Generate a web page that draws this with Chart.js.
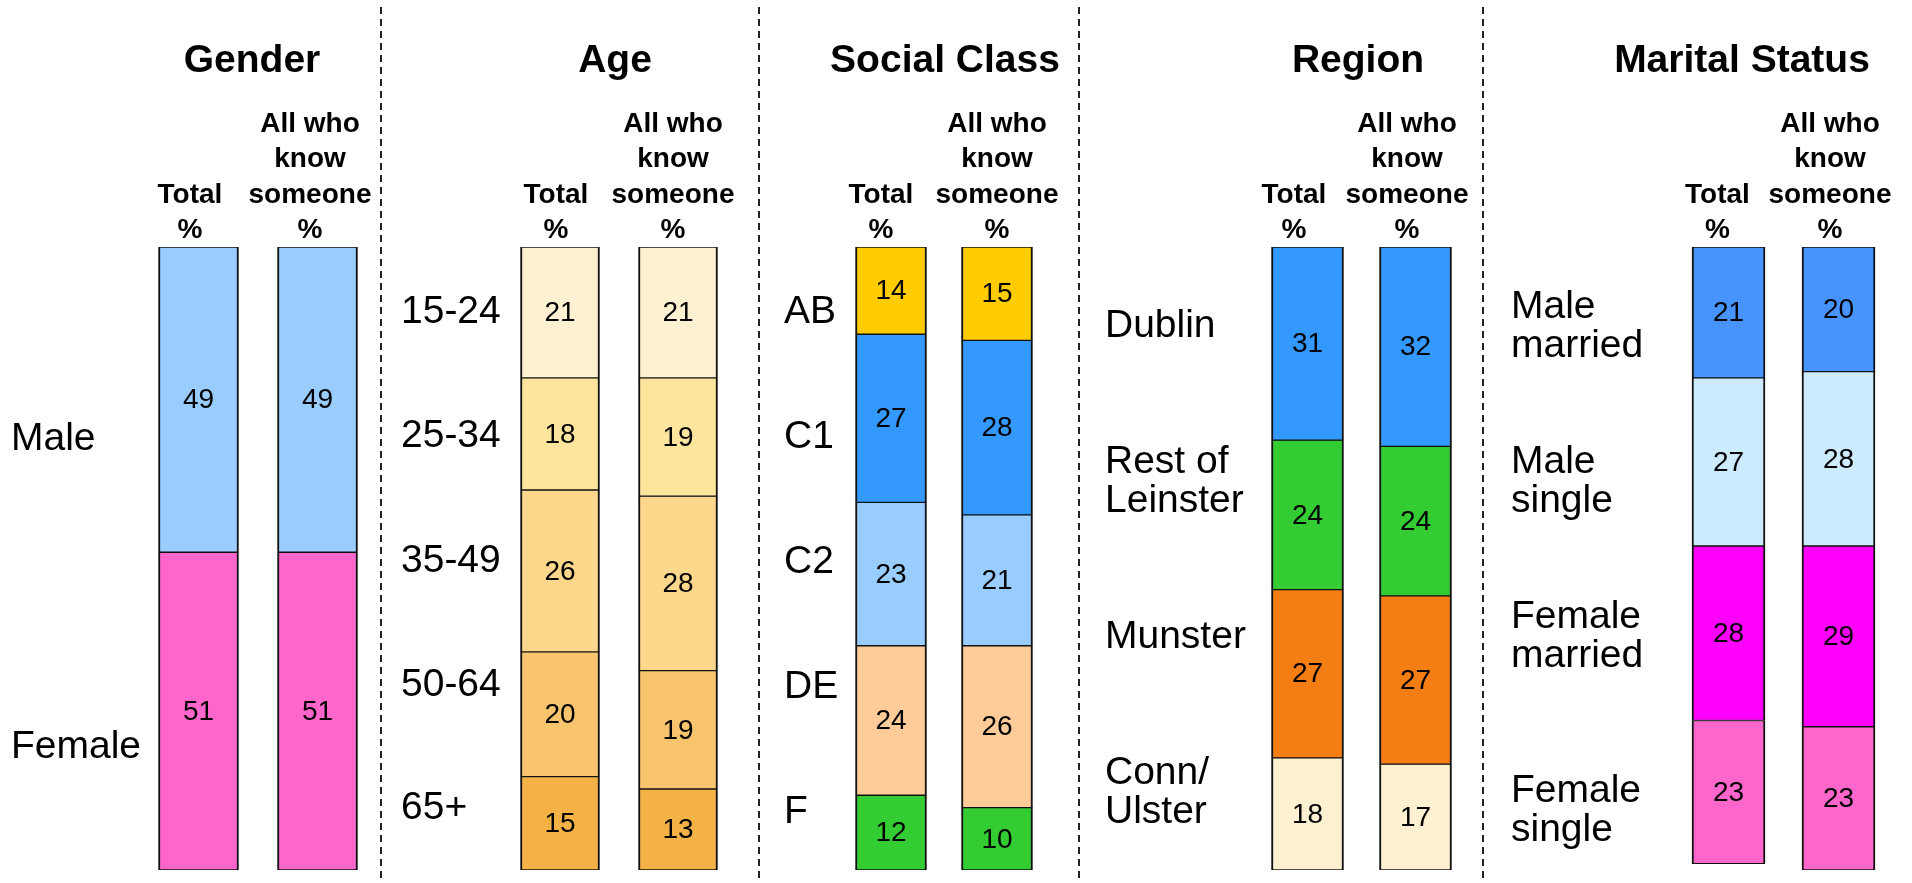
<!DOCTYPE html>
<html>
<head>
<meta charset="utf-8">
<script src="https://cdn.jsdelivr.net/npm/chart.js@4.4.1/dist/chart.umd.min.js"></script>
<style>
  html, body { margin: 0; padding: 0; background: #fff; }
  body { width: 1912px; height: 883px; position: relative; overflow: hidden; }
  canvas { position: absolute; top: 0; }
</style>
</head>
<body>
<script>
// ---- data ----
const columnHeaders = [['Total', '%'], ['All who', 'know', 'someone', '%']];

const genderCategories = ['Male', 'Female'];
const genderTotal = [49, 51];
const genderKnow = [49, 51];

const ageCategories = ['15-24', '25-34', '35-49', '50-64', '65+'];
const ageTotal = [21, 18, 26, 20, 15];
const ageKnow = [21, 19, 28, 19, 13];

const classCategories = ['AB', 'C1', 'C2', 'DE', 'F'];
const classTotal = [14, 27, 23, 24, 12];
const classKnow = [15, 28, 21, 26, 10];

const regionCategories = ['Dublin', 'Rest of\nLeinster', 'Munster', 'Conn/\nUlster'];
const regionTotal = [31, 24, 27, 18];
const regionKnow = [32, 24, 27, 17];

const maritalCategories = ['Male\nmarried', 'Male\nsingle', 'Female\nmarried', 'Female\nsingle'];
const maritalTotal = [21, 27, 28, 23];
const maritalKnow = [20, 28, 29, 23];

// ---- panels: data + layout ----
const FONT = '"Liberation Sans", Arial, sans-serif';
const CHART_TOP = 247, CHART_BOTTOM = 870, PAGE_H = 883;

const panels = [
    {
        title: 'Gender', categories: genderCategories, total: genderTotal, know: genderKnow,
        colors: ['#99CCFF', '#FF66CC'],
        left: 0, right: 381, divider: false,
        barCenters: [198.5, 317.5], barWidth: 80,
        titleX: 252, headerX: [190, 310],
        labelX: 11, labelY: [450, 758]
    },
    {
        title: 'Age', categories: ageCategories, total: ageTotal, know: ageKnow,
        colors: ['#FDF1D2', '#FEE59E', '#FDD78B', '#F8C46D', '#F4B246'],
        left: 380, right: 759, divider: true,
        barCenters: [560, 678], barWidth: 79,
        titleX: 615, headerX: [556, 673],
        labelX: 401, labelY: [323, 447, 572, 696, 819]
    },
    {
        title: 'Social Class', categories: classCategories, total: classTotal, know: classKnow,
        colors: ['#FFCC00', '#3399FF', '#99CCFF', '#FFCC99', '#33CC33'],
        left: 758, right: 1079, divider: true,
        barCenters: [891, 997], barWidth: 71,
        titleX: 945, headerX: [881, 997],
        labelX: 784, labelY: [323, 448, 573, 698, 823]
    },
    {
        title: 'Region', categories: regionCategories, total: regionTotal, know: regionKnow,
        colors: ['#3399FF', '#33CC33', '#F47D14', '#FDF1D2'],
        left: 1078, right: 1483, divider: true,
        barCenters: [1307.5, 1415.5], barWidth: 72,
        titleX: 1358, headerX: [1294, 1407],
        labelX: 1105, labelY: [337, 473, 648, 784]
    },
    {
        title: 'Marital Status', categories: maritalCategories, total: maritalTotal, know: maritalKnow,
        colors: ['#4794FF', '#CCEBFF', '#FF00FF', '#FF66CC'],
        left: 1482, right: 1912, divider: true,
        barCenters: [1728.5, 1838.5], barWidth: 73,
        titleX: 1742, headerX: [1717.5, 1830],
        labelX: 1511, labelY: [318, 473, 628, 802]
    }
];

// Draws titles, column headers, category labels, values and the dashed divider
const decorPlugin = {
    id: 'decor',
    afterDatasetsDraw(chart, args, opts) {
        const p = opts.panel;
        const ctx = chart.ctx;
        const off = p.left;
        ctx.save();
        ctx.fillStyle = '#000';

        // values in the middle of each segment
        ctx.font = '28px ' + FONT;
        ctx.textAlign = 'center';
        ctx.textBaseline = 'middle';
        chart.data.datasets.forEach((ds, d) => {
            chart.getDatasetMeta(d).data.forEach((bar, j) => {
                ctx.fillText(String(ds.data[j]), bar.x, (bar.y + bar.base) / 2 + 1);
            });
        });

        // panel title
        ctx.textBaseline = 'alphabetic';
        ctx.font = 'bold 39px ' + FONT;
        ctx.fillText(p.title, p.titleX - off, 72);

        // column headers, bottom aligned
        ctx.font = 'bold 28px ' + FONT;
        columnHeaders.forEach((lines, c) => {
            lines.forEach((line, k) => {
                const y = 238 - (lines.length - 1 - k) * 35.5;
                ctx.fillText(line, p.headerX[c] - off, y);
            });
        });

        // category labels on the left
        ctx.font = '39px ' + FONT;
        ctx.textAlign = 'left';
        p.categories.forEach((cat, i) => {
            cat.split('\n').forEach((line, k) => {
                ctx.fillText(line, p.labelX - off, p.labelY[i] + k * 38.5);
            });
        });

        // dashed divider at the panel's left edge
        if (p.divider) {
            ctx.strokeStyle = '#222';
            ctx.lineWidth = 2;
            ctx.setLineDash([7, 5]);
            ctx.beginPath();
            ctx.moveTo(1, 7);
            ctx.lineTo(1, PAGE_H);
            ctx.stroke();
        }
        ctx.restore();
    }
};

function buildPanel(p) {
    const canvas = document.createElement('canvas');
    canvas.width = p.right - p.left;
    canvas.height = PAGE_H;
    canvas.style.left = p.left + 'px';
    document.body.appendChild(canvas);

    const spacing = p.barCenters[1] - p.barCenters[0];
    const areaLeft = p.barCenters[0] - spacing / 2;
    const areaRight = p.barCenters[1] + spacing / 2;

    const datasets = p.categories.map((cat, i) => ({
        label: cat,
        data: [p.total[i], p.know[i]],
        backgroundColor: p.colors[i],
        borderColor: '#111',
        borderWidth: { top: 1, bottom: 1, left: 2, right: 2 },
        borderSkipped: false,
        barThickness: p.barWidth,
        stack: 'all'
    }));

    new Chart(canvas.getContext('2d'), {
        type: 'bar',
        data: { labels: columnHeaders.map(h => h.join(' ')), datasets: datasets },
        options: {
            responsive: false,
            devicePixelRatio: 1,
            animation: false,
            layout: {
                padding: {
                    top: CHART_TOP,
                    bottom: PAGE_H - CHART_BOTTOM,
                    left: areaLeft - p.left,
                    right: p.right - areaRight
                }
            },
            scales: {
                x: { stacked: true, display: false },
                y: { stacked: true, display: false, min: 0, max: 100, reverse: true }
            },
            plugins: {
                legend: { display: false },
                tooltip: { enabled: false },
                decor: { panel: p }
            }
        },
        plugins: [decorPlugin]
    });
}

panels.forEach(buildPanel);
</script>
</body>
</html>
